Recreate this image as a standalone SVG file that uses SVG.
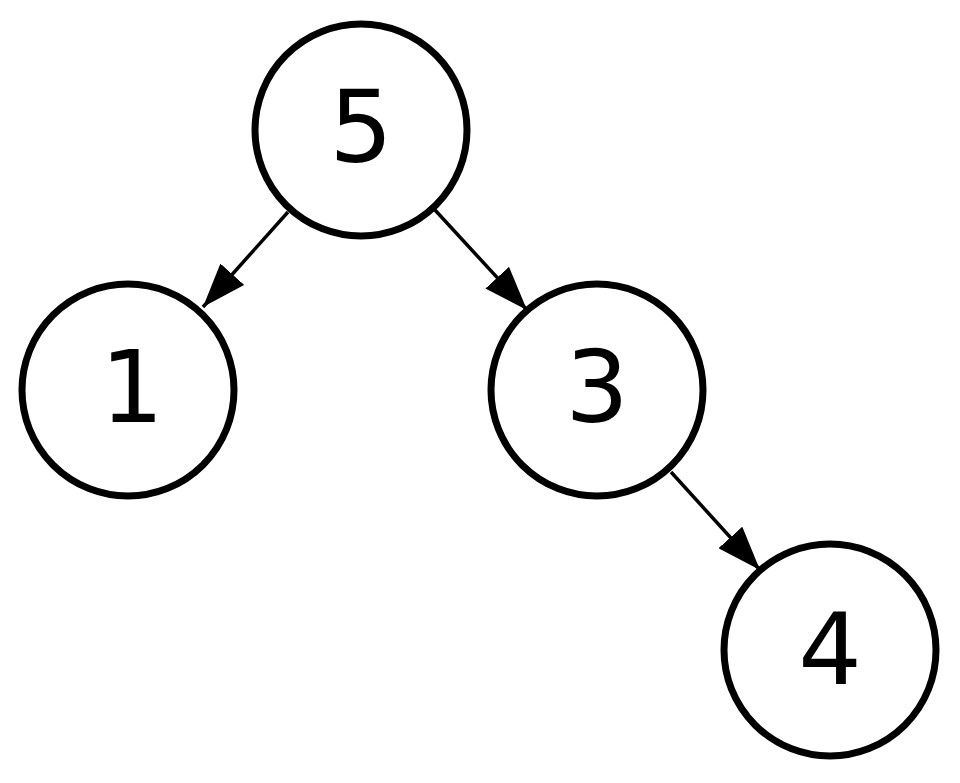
<svg xmlns="http://www.w3.org/2000/svg" width="960" height="783" viewBox="0 0 960 783">
<style>
.n circle{fill:#fff;stroke:#000;stroke-width:7}
.n text{font-family:"DejaVu Sans",sans-serif;font-size:100px;text-anchor:middle;fill:#000}
.e line{stroke:#000;stroke-width:3.5}
</style>
<defs><marker id="a" viewBox="0 0 10 10" refX="10" refY="5" markerWidth="12" markerHeight="12" markerUnits="userSpaceOnUse" orient="auto"><path d="M0,0L10,5L0,10z"/></marker>
<marker id="b" viewBox="0 0 44 32" refX="44" refY="16" markerWidth="44" markerHeight="32" markerUnits="userSpaceOnUse" orient="auto"><path d="M0,0L44,16L0,32z"/></marker></defs>
<rect width="960" height="783" fill="#fff"/>
<g class="e">
<line x1="288" y1="212" x2="203" y2="307" marker-end="url(#b)"/>
<line x1="435" y1="210" x2="527" y2="310" marker-end="url(#b)"/>
<line x1="671" y1="472" x2="760" y2="570" marker-end="url(#b)"/>
</g>
<g id="n5" class="n"><circle cx="361" cy="130" r="106"/><text x="361" y="162">5</text></g>
<g id="n1" class="n"><circle cx="128" cy="390" r="106"/><text x="132" y="422">1</text></g>
<g id="n3" class="n"><circle cx="597" cy="390" r="106"/><text x="597" y="422">3</text></g>
<g id="n4" class="n"><circle cx="830" cy="650" r="106"/><text x="830" y="684">4</text></g>
</svg>
